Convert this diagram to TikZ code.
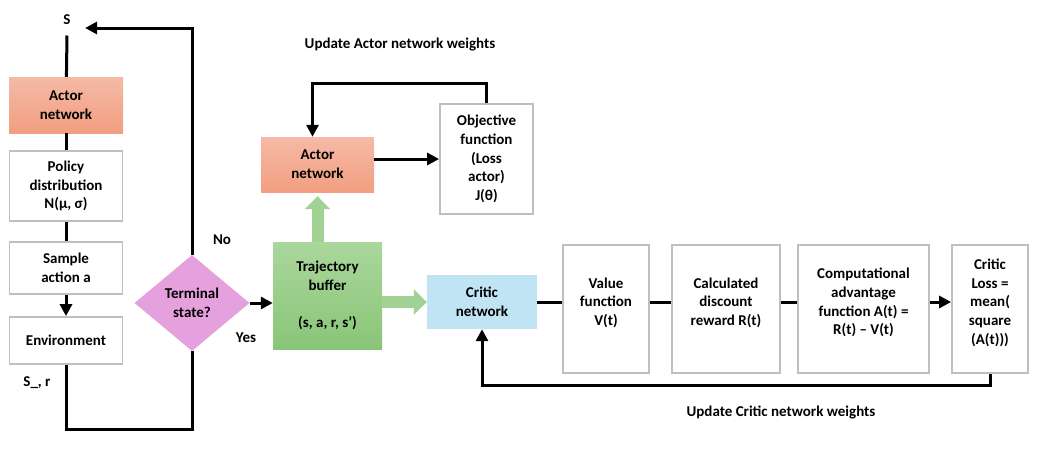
\documentclass[tikz,border=0pt]{standalone}
\usepackage{fontspec}
\setmainfont{Carlito}
\usetikzlibrary{arrows.meta}
\usetikzlibrary{shapes.geometric}

\begin{document}
\begin{tikzpicture}[x=1pt, y=-1pt,
  txt/.style={font=\bfseries\fontsize{15}{18.7}\selectfont, align=center},
  wbox/.style={txt, draw=boxgray, line width=1.8pt, fill=white, inner sep=2pt},
  cbox/.style={txt, inner sep=2pt},
  link/.style={line width=3pt},
  arr/.style={link, -{Triangle[length=12pt,width=12pt]}},
  fat/.style={line width=12pt, draw=fatgreen, -{Triangle[length=13pt,width=25pt]}}]

% colours taken from the office-style palette
\definecolor{boxgray}{HTML}{BFBFBF}
\definecolor{actA}{HTML}{F5BAA6}
\definecolor{actB}{HTML}{F29E81}
\definecolor{bufA}{HTML}{AAD79C}
\definecolor{bufB}{HTML}{89C578}
\definecolor{criticblue}{HTML}{C1E4F5}
\definecolor{termpink}{HTML}{E5A0DE}
\definecolor{fatgreen}{HTML}{A2D293}

\useasboundingbox (0,0) rectangle (1039,450);

%% left column: acting in the environment
\node [txt] at (67,20) (s) {S};
\node [cbox,top color=actA,bottom color=actB,minimum width=114pt,minimum height=56pt] at (66,105) (actL) {Actor\\network};
\node [wbox,minimum width=113pt,minimum height=70pt] at (66,186) (policy) {Policy\\distribution\\N(μ, σ)};
\node [wbox,minimum width=113pt,minimum height=52pt] at (66,268) (sample) {Sample\\action a};
\node [wbox,minimum width=113pt,minimum height=47pt] at (66,340.5) (env) {Environment};
\node [txt] at (37,383) (sr) {S\_, r};
\draw [link] ([yshift=-7pt]s.south) -- (actL);
\draw [link] (actL) -- (policy);
\draw [link] (policy) -- (sample);
\draw [arr] (sample) -- (env);

%% terminal check
\node [txt,diamond,fill=termpink,aspect=1.2,inner sep=0pt,minimum width=115pt,minimum height=96pt] at (192,303) (term) {Terminal\\state?};
\node [txt] at (222,240) (no) {No};
\node [txt] at (246,338) (yes) {Yes};
\draw [link] (env.south) -- ++(0,65) -| (term.south);
\draw [arr] (term.north) |- ([xshift=11pt,yshift=-8pt]s.east);

%% trajectory buffer and actor update
\node [cbox,top color=bufA,bottom color=bufB,minimum width=109pt,minimum height=107pt] at (327.5,295.5) (buf) {Trajectory\\buffer\\[18pt](s, a, r, s’)};
\draw [arr] (term.east) -- (term.east -| buf.west);
\node [cbox,top color=actA,bottom color=actB,minimum width=113pt,minimum height=55pt] at (317.5,164.5) (actM) {Actor\\network};
\node [wbox,minimum width=93pt,minimum height=110pt] at (486.5,159) (obj) {Objective\\function\\(Loss\\actor)\\J(θ)};
\draw [fat, shorten >=4pt] (actM.south |- buf.north) -- (actM.south);
\draw [arr] (actM.east |- obj.west) -- (obj.west);
\draw [arr] (obj.north) -- ++(0,-20) -| ([xshift=-5pt]actM.north);
\node [txt] at (400,45) (upA) {Update Actor network weights};

%% critic chain
\node [cbox,fill=criticblue,minimum width=110pt,minimum height=54pt] at (482,302) (critic) {Critic\\network};
\draw [fat] (buf.east |- critic.west) -- (critic.west);
\node [wbox,minimum width=86pt,minimum height=128pt] at (606,309) (value) {Value\\function\\V(t)\\[-4pt]\mbox{}};
\node [wbox,minimum width=108pt,minimum height=128pt] at (726,309) (disc) {Calculated\\discount\\reward R(t)\\[-4pt]\mbox{}};
\node [wbox,minimum width=131pt,minimum height=128pt] at (863.5,309) (adv) {Computational\\advantage\\function A(t) =\\R(t) – V(t)\\[-4pt]\mbox{}};
\node [wbox,minimum width=76pt,minimum height=128pt] at (990,309) (loss) {Critic\\Loss =\\mean(\\square\\(A(t)))\\[-4pt]\mbox{}};
\draw [link] (critic.east) -- (critic.east -| value.west);
\draw [link] (critic.east -| value.east) -- (critic.east -| disc.west);
\draw [link] (critic.east -| disc.east) -- (critic.east -| adv.west);
\draw [arr] (critic.east -| adv.east) -- (critic.east -| loss.west);
\draw [arr] (loss.south) -- ++(0,12) -| (critic.south);
\node [txt] at (781,412) (upC) {Update Critic network weights};
\end{tikzpicture}
\end{document}
